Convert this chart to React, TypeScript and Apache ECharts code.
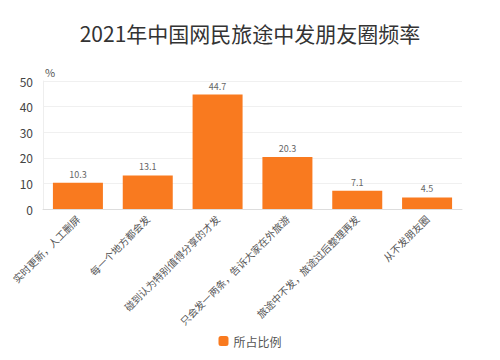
import React, { useEffect, useRef } from "react";
import * as echarts from "echarts";

const categories = [
  "实时更新，人工删屏",
  "每一个地方都会发",
  "碰到认为特别值得分享的才发",
  "只会发一两条，告诉大家在外旅游",
  "旅途中不发，旅途过后整理再发",
  "从不发朋友圈",
];
const values = [10.3, 13.1, 44.7, 20.3, 7.1, 4.5];
const seriesName = "所占比例";
const titleText = "2021年中国网民旅途中发朋友圈频率";

export default function App() {
  const ref = useRef<HTMLDivElement>(null);
  useEffect(() => {
    const chart = echarts.init(ref.current!, null, { renderer: "svg" });
    const font = '"Noto Sans CJK SC", "Noto Sans", sans-serif';
    chart.setOption({
      animation: false,
      textStyle: { fontFamily: font },
      title: {
        text: titleText,
        left: "center",
        top: 17,
        textStyle: { fontSize: 21, fontWeight: "normal", color: "#333", fontFamily: font },
      },
      legend: {
        bottom: 8,
        left: "center",
        itemWidth: 10,
        itemHeight: 10,
        icon: "roundRect",
        textStyle: { fontSize: 12, color: "#555", fontFamily: font },
        data: [seriesName],
      },
      grid: { left: 43, right: 38, top: 81, bottom: 151 },
      xAxis: {
        type: "category",
        data: categories,
        axisLine: { lineStyle: { color: "#ddd" } },
        axisTick: { show: false },
        axisLabel: { rotate: 45, fontSize: 10, color: "#555", interval: 0, margin: 8 },
      },
      yAxis: {
        type: "value",
        name: "%",
        nameGap: 4,
        nameTextStyle: { fontSize: 11, color: "#555", align: "left", padding: [0, 0, 0, 2] },
        min: 0,
        max: 50,
        interval: 10,
        axisLine: { show: true, lineStyle: { color: "#eee" } },
        axisTick: { show: false },
        axisLabel: { fontSize: 12, color: "#444", margin: 10 },
        splitLine: { lineStyle: { color: "#f0f0f0" } },
      },
      series: [
        {
          name: seriesName,
          type: "bar",
          data: values,
          barWidth: 50,
          itemStyle: { color: "#f97a1f" },
          label: { show: true, position: "top", fontSize: 9, color: "#666", distance: 4 },
        },
      ],
    });
    return () => chart.dispose();
  }, []);
  return <div ref={ref} style={{ width: 500, height: 360, position: "absolute", left: 0, top: 0, background: "#fff" }} />;
}
